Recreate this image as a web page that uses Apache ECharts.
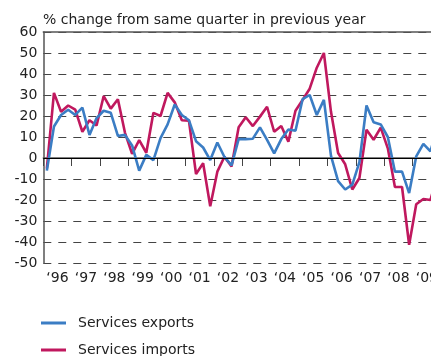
<!DOCTYPE html>
<html>
<head>
<meta charset="utf-8">
<script src="https://cdn.jsdelivr.net/npm/echarts@6/dist/echarts.min.js"></script>
<style>
html,body{margin:0;padding:0;background:#fff;}
#chart{width:431px;height:356px;}
</style>
</head>
<body>
<div id="chart"></div>
<script>
var titleText = '% change from same quarter in previous year';
var firstYear = 1996;
var lastYear = 2009;
var yTicks = [-50, -40, -30, -20, -10, 0, 10, 20, 30, 40, 50, 60];
var seriesNames = ['Services exports', 'Services imports'];
// quarterly values, 1996 Q1 .. 2009 Q4
var exportsData = [
  -6, 15, 20.5, 23,
  20.5, 24, 11, 19,
  22.5, 21.5, 10.5, 11,
  6, -6, 1.5, -1,
  9.5, 16, 25.5, 20.5,
  18, 8, 5, -1,
  7.4, 0.5, -3.5, 9,
  9, 9.2, 14.6, 8.6,
  2.2, 9, 13.6, 13,
  28, 30, 20.5, 27.7,
  1, -11, -15, -12.7,
  -2, 25, 17, 16,
  10, -6.5, -6.5, -16.7,
  0.8, 6.7, 3.2, 15
];
var importsData = [
  -5, 31, 22, 25,
  23, 12.5, 18, 15.5,
  29.5, 23.5, 28, 12,
  2, 8.5, 2.5, 21.5,
  20, 31, 26.5, 18,
  17.8, -7.6, -2.5, -23,
  -6.5, 0.6, -4, 14.6,
  19.4, 15.2, 19.7, 24.4,
  12.5, 15.2, 7.8, 22.5,
  27.6, 33, 43, 50,
  22, 2.4, -3, -15,
  -9.5, 13.5, 8.7, 14.5,
  4.6, -13.8, -13.8, -41.3,
  -22, -19.5, -20, -8
];
var colors = ['#3b7dc4', '#c0185e'];

function toPairs(arr) {
  return arr.map(function (v, i) { return [firstYear + (i + 0.5) / 4, v]; });
}

var chart = echarts.init(document.getElementById('chart'), null, {renderer: 'canvas'});
var font = 'DejaVu Sans';
chart.setOption({
  animation: false,
  color: colors,
  title: {
    text: titleText,
    left: 38,
    top: 8,
    textStyle: {fontFamily: font, fontSize: 14, fontWeight: 'normal', color: '#222'}
  },
  legend: {
    orient: 'vertical',
    left: 41,
    top: 316,
    height: 60,
    padding: 0,
    itemWidth: 25,
    itemHeight: 3,
    itemGap: 13,
    icon: 'rect',
    textStyle: {fontFamily: font, fontSize: 14, lineHeight: 14, color: '#222', padding: [0, 0, 0, 7]},
    data: seriesNames
  },
  grid: {left: 43.3, top: 32, width: 397.8, height: 231, containLabel: false, outerBoundsMode: 'none'},
  xAxis: [
    {
      type: 'value', min: firstYear, max: lastYear + 1, interval: 1,
      position: 'bottom',
      axisLine: {show: true, lineStyle: {color: '#555', width: 1.5}},
      axisTick: {show: true, length: 8, lineStyle: {color: '#444', width: 1}},
      axisLabel: {show: false},
      splitLine: {show: false}
    },
    {
      type: 'value', min: firstYear, max: lastYear + 1, interval: 0.5,
      position: 'bottom',
      axisLine: {show: false},
      axisTick: {show: false},
      splitLine: {show: false},
      axisLabel: {
        show: true, margin: 8,
        fontFamily: font, fontSize: 14, color: '#222',
        formatter: function (v) {
          if (Math.abs(v % 1 - 0.5) < 1e-6) {
            return '\u2018' + String(Math.floor(v)).slice(2);
          }
          return '';
        }
      }
    },
    {
      type: 'value', min: firstYear, max: lastYear + 1, interval: 1,
      position: 'top',
      axisLine: {show: true, lineStyle: {color: '#555', width: 1.5}},
      axisTick: {show: false},
      axisLabel: {show: false},
      splitLine: {show: false}
    }
  ],
  yAxis: {
    type: 'value', min: yTicks[0], max: yTicks[yTicks.length - 1], interval: 10,
    axisLine: {show: true, lineStyle: {color: '#555', width: 1.5}},
    axisTick: {show: false},
    axisLabel: {fontFamily: font, fontSize: 14, color: '#222', margin: 6},
    splitLine: {show: true, lineStyle: {color: '#444', width: 1, type: [8, 7]}}
  },
  series: [
    {
      name: seriesNames[0], type: 'line', xAxisIndex: 0,
      data: toPairs(exportsData), symbol: 'none', z: 3,
      lineStyle: {width: 2.6, color: colors[0]},
      markLine: {
        silent: true, symbol: 'none', label: {show: false},
        lineStyle: {color: '#000', width: 1, type: 'solid'},
        data: [{yAxis: 0}]
      }
    },
    {
      name: seriesNames[1], type: 'line', xAxisIndex: 0,
      data: toPairs(importsData), symbol: 'none', z: 2,
      lineStyle: {width: 2.6, color: colors[1]}
    }
  ]
});
</script>
</body>
</html>
